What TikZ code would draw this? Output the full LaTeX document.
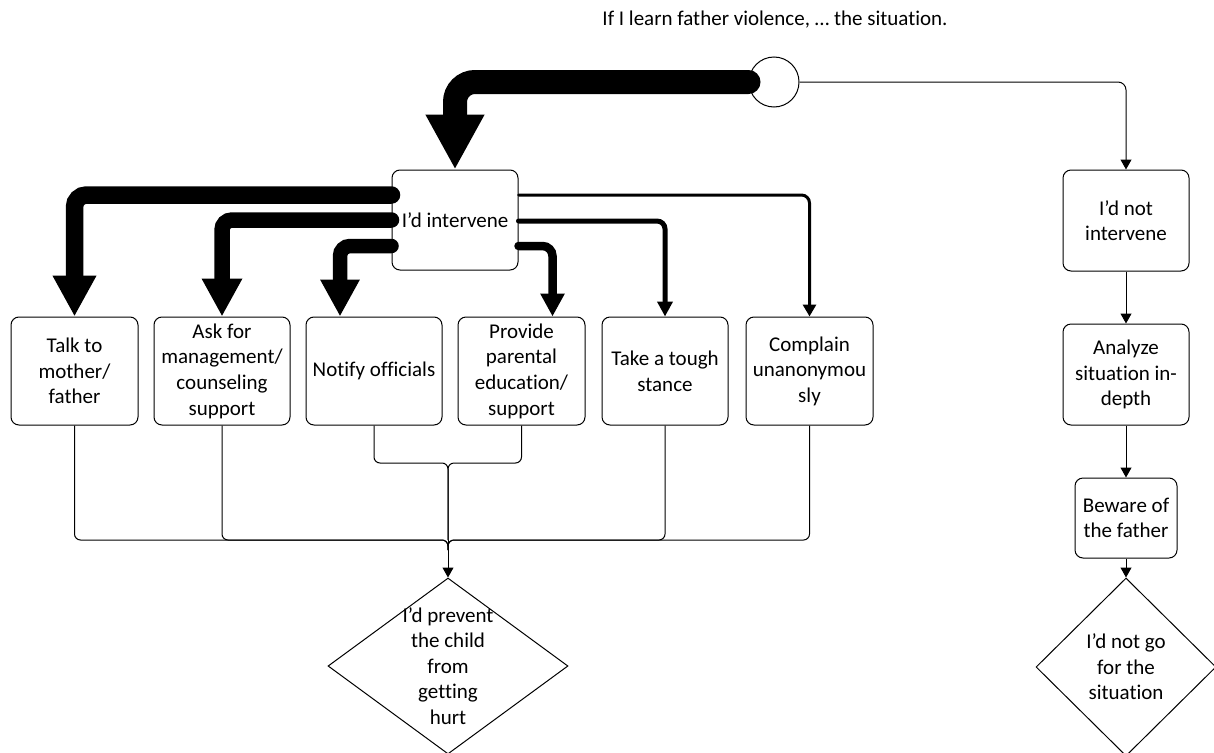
\documentclass[tikz,border=0pt]{standalone}
\usepackage{fontspec}
\setmainfont[Ligatures={NoCommon}]{Carlito}
\usetikzlibrary{arrows.meta,shapes.geometric}
\newcommand{\diagfont}{\fontsize{21}{25.6}\selectfont}

\begin{document}
\begin{tikzpicture}[x=1pt, y=-1pt,
    every node/.style={font=\diagfont},
    box/.style={draw, line width=1pt, rounded corners=8pt, align=center, inner sep=0pt},
    decision/.style={draw, diamond, line width=1pt, inner sep=0pt},
    thin/.style={line width=1pt, rounded corners=8pt, -{Triangle[length=10pt, width=11pt]}},
    fat/.style={line cap=round, rounded corners=#1},
    merge/.style={line width=1pt, rounded corners=6pt}]
    \useasboundingbox (0,0) rectangle (1214,752);

    \node (title) at (775,20) {If I learn father violence, … the situation.};
    \node[circle, draw, line width=1pt, minimum size=50pt, inner sep=0pt] (start) at (774,82) {};

    \node[box, minimum width=126pt, minimum height=100pt] (act) at (455,220) {I’d intervene};

    \node[box, minimum width=127pt, minimum height=108pt] (talk) at (74.5,371) {Talk to\\mother/\\father};
    \node[box, minimum width=136pt, minimum height=108pt] (ask) at (222,371) {Ask for\\management/\\counseling\\support};
    \node[box, minimum width=136pt, minimum height=108pt] (notify) at (374,371) {Notify officials};
    \node[box, minimum width=127pt, minimum height=108pt] (parent) at (521.5,371) {Provide\\parental\\education/\\support};
    \node[box, minimum width=126pt, minimum height=108pt] (stance) at (665,371) {Take a tough\\stance};
    \node[box, minimum width=127pt, minimum height=108pt] (complain) at (809.5,371) {Complain\\unanonymou\\sly};

    \node[decision, minimum width=240pt, minimum height=176pt,
        label={[align=center]center:{I’d prevent\\the child\\from\\getting\\hurt}}] (prevent) at (448,666) {};

    \node[box, minimum width=126pt, minimum height=101pt] (noact) at (1126,220.5) {I’d not\\intervene};
    \node[box, minimum width=126pt, minimum height=101pt] (analyze) at (1126,374.5) {Analyze\\situation in-\\depth};
    \node[box, minimum width=102pt, minimum height=80pt] (beware) at (1126,518) {Beware of\\the father};
    \node[decision, minimum width=180pt, minimum height=178pt,
        label={[align=center]center:{I’d not go\\for the\\situation}}] (notgo) at (1126,667) {};

    % from the start
    \draw[fat=20pt, line width=24pt, -{Triangle[length=55pt, width=55pt]}] (start.west) -| (act.north);
    \draw[thin] (start.east) -| (noact.north);

    % intervene, left side
    \draw[fat=12pt, line width=17.5pt, -{Triangle[length=41pt, width=41pt]}] ([yshift=25pt]act.west) -| (talk.north);
    \draw[fat=10pt, line width=15.5pt, -{Triangle[length=38pt, width=38pt]}] (act.west) -| (ask.north);
    \draw[fat=10pt, line width=14.5pt, -{Triangle[length=37pt, width=37pt]}] ([yshift=-26pt]act.west) -| ([xshift=-34pt]notify.north);

    % intervene, right side
    \draw[fat=8pt, line width=3pt, -{Triangle[length=12pt, width=13pt]}] ([yshift=25pt]act.east) -| (complain.north);
    \draw[fat=8pt, line width=5pt, -{Triangle[length=15pt, width=15pt]}] ([yshift=-1pt]act.east) -| (stance.north);
    \draw[fat=10pt, line width=8.5pt, -{Triangle[length=23pt, width=23pt]}] ([yshift=-26pt]act.east) -| ([xshift=31pt]parent.north);

    % merging lines
    \coordinate (jtop) at (448,463);
    \coordinate (jbot) at (448,540);
    \draw[merge] (notify.south) |- (jtop) -- (jbot);
    \draw[merge] (parent.south) |- (jtop) -- (jbot);
    \draw[merge] (talk.south) |- (jbot) -- ([yshift=-10pt]jbot);
    \draw[merge] (ask.south) |- (jbot) -- ([yshift=-10pt]jbot);
    \draw[merge] (stance.south) |- (jbot) -- ([yshift=-10pt]jbot);
    \draw[merge] (complain.south) |- (jbot) -- ([yshift=-10pt]jbot);
    \draw[thin] (jbot) -- (prevent.north);

    % not intervening
    \draw[thin] (noact) -- (analyze);
    \draw[thin] (analyze) -- (beware);
    \draw[thin] (beware) -- (notgo);

\end{tikzpicture}
\end{document}
